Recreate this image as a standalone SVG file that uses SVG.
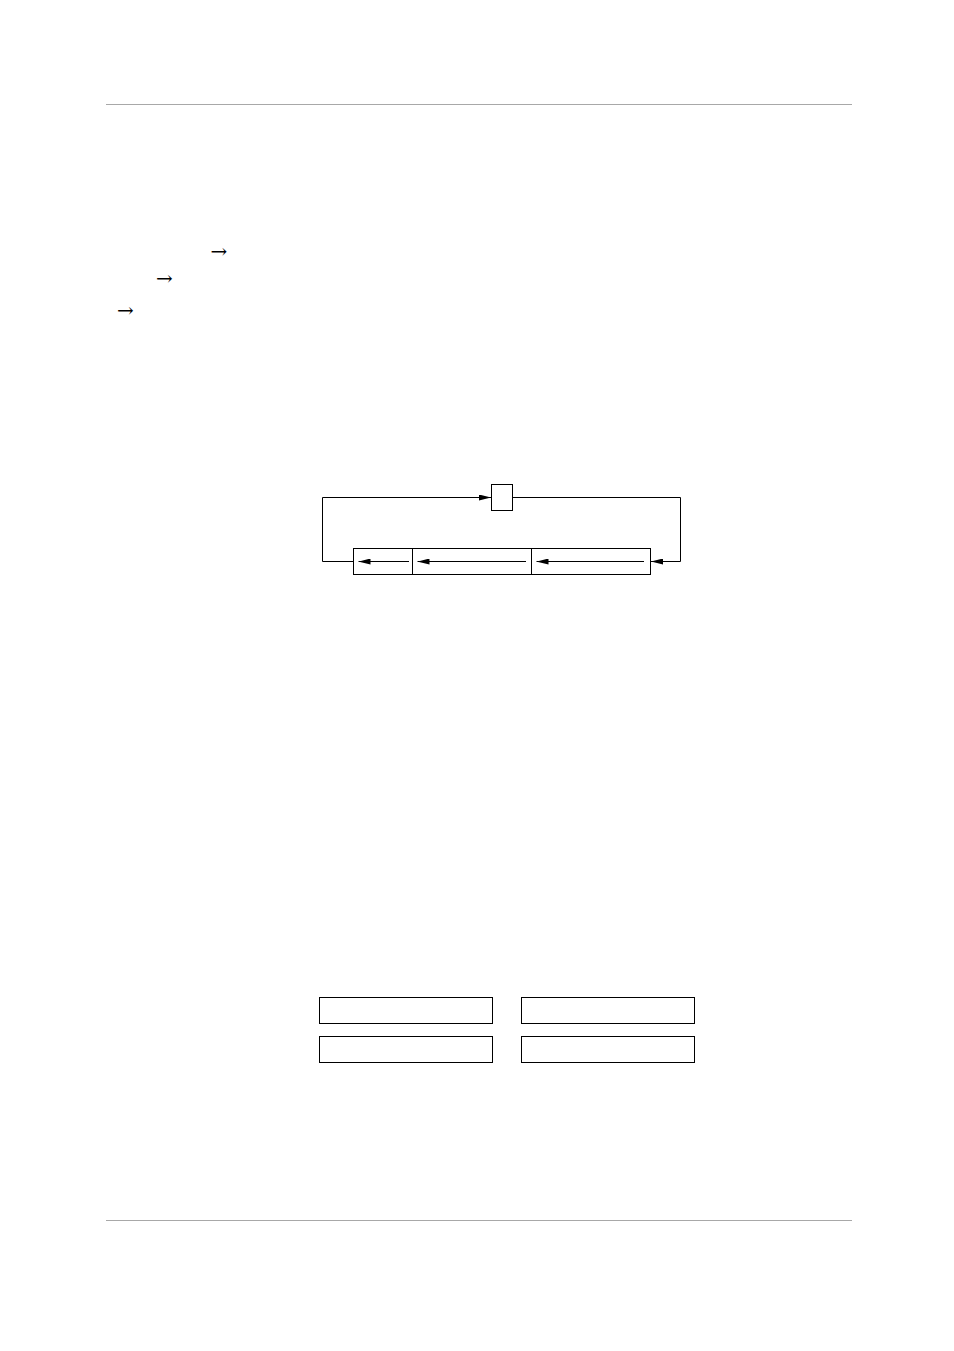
<svg xmlns="http://www.w3.org/2000/svg" width="954" height="1351" viewBox="0 0 954 1351">
<style>
.rule{stroke:#a8a8a8;stroke-width:1.2;fill:none}
.box{fill:#fff;stroke:#000;stroke-width:1}
.wire{fill:none;stroke:#000;stroke-width:1}
.sym{font-family:"DejaVu Serif",serif;font-size:20px;fill:#000}
</style>
<defs>
<marker id="ah" markerWidth="12" markerHeight="6" refX="12" refY="3" orient="auto" markerUnits="userSpaceOnUse">
<path d="M0,0 L12,3 L0,6 Z" fill="#000"/>
</marker>
</defs>
<rect width="954" height="1351" fill="#fff"/>
<line class="rule" x1="106" y1="104.5" x2="852" y2="104.5"/>
<line class="rule" x1="106" y1="1220.5" x2="852" y2="1220.5"/>
<g id="text-arrows">
<text class="sym" x="210.5" y="257.5">→</text>
<text class="sym" x="156" y="284.5">→</text>
<text class="sym" x="117" y="317">→</text>
</g>
<g id="node-top"><rect class="box" x="491.5" y="484.5" width="21" height="26"/></g>
<g id="node-cell1"><rect class="box" x="353.5" y="548.5" width="59" height="26"/></g>
<g id="node-cell2"><rect class="box" x="412.5" y="548.5" width="119" height="26"/></g>
<g id="node-cell3"><rect class="box" x="531.5" y="548.5" width="119" height="26"/></g>
<g id="connectors">
<polyline class="wire" points="353,561.5 322.5,561.5 322.5,497.5 491,497.5" marker-end="url(#ah)"/>
<polyline class="wire" points="512.5,497.5 680.5,497.5 680.5,561.5 651,561.5" marker-end="url(#ah)"/>
<line class="wire" x1="409" y1="561.5" x2="358.5" y2="561.5" marker-end="url(#ah)"/>
<line class="wire" x1="526" y1="561.5" x2="417.5" y2="561.5" marker-end="url(#ah)"/>
<line class="wire" x1="644" y1="561.5" x2="536.5" y2="561.5" marker-end="url(#ah)"/>
</g>
<g id="node-b1"><rect class="box" x="319.5" y="997.5" width="173" height="26"/></g>
<g id="node-b2"><rect class="box" x="521.5" y="997.5" width="173" height="26"/></g>
<g id="node-b3"><rect class="box" x="319.5" y="1036.5" width="173" height="26"/></g>
<g id="node-b4"><rect class="box" x="521.5" y="1036.5" width="173" height="26"/></g>
</svg>
